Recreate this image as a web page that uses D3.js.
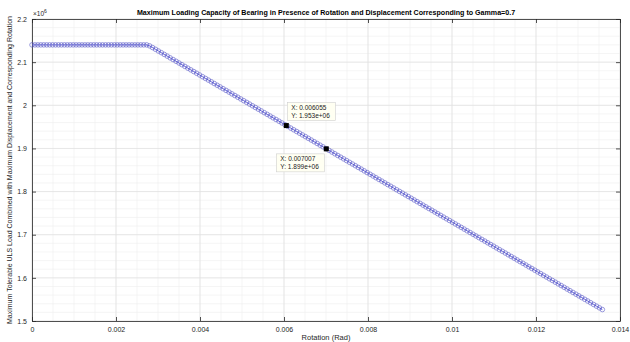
<!DOCTYPE html>
<html>
<head>
<meta charset="utf-8">
<script src="https://cdn.jsdelivr.net/npm/d3@7"></script>
<style>
  body { margin: 0; background: #fff; }
  text { font-family: "Liberation Sans", Arial, sans-serif; }
</style>
</head>
<body>
<script>
/* Rotation (rad) and load (x 1e6) */
var rotation = [
  0.00000,0.00007,0.00014,0.00021,0.00028,0.00035,0.00042,0.00049,0.00056,0.00063,
  0.00070,0.00077,0.00084,0.00091,0.00098,0.00105,0.00112,0.00119,0.00126,0.00133,
  0.00140,0.00147,0.00154,0.00161,0.00168,0.00175,0.00182,0.00189,0.00196,0.00203,
  0.00210,0.00217,0.00224,0.00231,0.00238,0.00245,0.00252,0.00259,0.00266,0.00273,
  0.00280,0.00287,0.00294,0.00301,0.00308,0.00315,0.00322,0.00329,0.00336,0.00343,
  0.00350,0.00357,0.00364,0.00371,0.00378,0.00385,0.00392,0.00399,0.00406,0.00413,
  0.00420,0.00427,0.00434,0.00441,0.00448,0.00455,0.00462,0.00469,0.00476,0.00483,
  0.00490,0.00497,0.00504,0.00511,0.00518,0.00525,0.00532,0.00539,0.00546,0.00553,
  0.00560,0.00567,0.00574,0.00581,0.00588,0.00595,0.00602,0.00609,0.00616,0.00623,
  0.00630,0.00637,0.00644,0.00651,0.00658,0.00665,0.00672,0.00679,0.00686,0.00693,
  0.00700,0.00707,0.00714,0.00721,0.00728,0.00735,0.00742,0.00749,0.00756,0.00763,
  0.00770,0.00777,0.00784,0.00791,0.00798,0.00805,0.00812,0.00819,0.00826,0.00833,
  0.00840,0.00847,0.00854,0.00861,0.00868,0.00875,0.00882,0.00889,0.00896,0.00903,
  0.00910,0.00917,0.00924,0.00931,0.00938,0.00945,0.00952,0.00959,0.00966,0.00973,
  0.00980,0.00987,0.00994,0.01001,0.01008,0.01015,0.01022,0.01029,0.01036,0.01043,
  0.01050,0.01057,0.01064,0.01071,0.01078,0.01085,0.01092,0.01099,0.01106,0.01113,
  0.01120,0.01127,0.01134,0.01141,0.01148,0.01155,0.01162,0.01169,0.01176,0.01183,
  0.01190,0.01197,0.01204,0.01211,0.01218,0.01225,0.01232,0.01239,0.01246,0.01253,
  0.01260,0.01267,0.01274,0.01281,0.01288,0.01295,0.01302,0.01309,0.01316,0.01323,
  0.01330,0.01337,0.01344,0.01351,0.01358];

var load = [
  2.14,2.14,2.14,2.14,2.14,2.14,2.14,2.14,2.14,2.14,
  2.14,2.14,2.14,2.14,2.14,2.14,2.14,2.14,2.14,2.14,
  2.14,2.14,2.14,2.14,2.14,2.14,2.14,2.14,2.14,2.14,
  2.14,2.14,2.14,2.14,2.14,2.14,2.14,2.14,2.14,2.14,
  2.1377,2.1338,2.1298,2.1258,2.1219,2.1179,2.1139,2.1099,2.1060,2.1020,
  2.0980,2.0941,2.0901,2.0861,2.0822,2.0782,2.0742,2.0703,2.0663,2.0623,
  2.0584,2.0544,2.0504,2.0464,2.0425,2.0385,2.0345,2.0306,2.0266,2.0226,
  2.0187,2.0147,2.0107,2.0068,2.0028,1.9988,1.9948,1.9909,1.9869,1.9829,
  1.9790,1.9750,1.9710,1.9671,1.9631,1.9591,1.9552,1.9512,1.9472,1.9433,
  1.9393,1.9353,1.9313,1.9274,1.9234,1.9194,1.9155,1.9115,1.9075,1.9036,
  1.8996,1.8956,1.8917,1.8877,1.8837,1.8797,1.8758,1.8718,1.8678,1.8639,
  1.8599,1.8559,1.8520,1.8480,1.8440,1.8401,1.8361,1.8321,1.8282,1.8242,
  1.8202,1.8162,1.8123,1.8083,1.8043,1.8004,1.7964,1.7924,1.7885,1.7845,
  1.7805,1.7766,1.7726,1.7686,1.7646,1.7607,1.7567,1.7527,1.7488,1.7448,
  1.7408,1.7369,1.7329,1.7289,1.7250,1.7210,1.7170,1.7130,1.7091,1.7051,
  1.7011,1.6972,1.6932,1.6892,1.6853,1.6813,1.6773,1.6734,1.6694,1.6654,
  1.6615,1.6575,1.6535,1.6495,1.6456,1.6416,1.6376,1.6337,1.6297,1.6257,
  1.6218,1.6178,1.6138,1.6099,1.6059,1.6019,1.5979,1.5940,1.5900,1.5860,
  1.5821,1.5781,1.5741,1.5702,1.5662,1.5622,1.5583,1.5543,1.5503,1.5464,
  1.5424,1.5384,1.5344,1.5305,1.5265];

/* data tips */
var tipX = [0.006055, 0.007007];
var tipY = [1.953, 1.899];
var tipLabelX = ["X: 0.006055", "X: 0.007007"];
var tipLabelY = ["Y: 1.953e+06", "Y: 1.899e+06"];

/* ticks */
var xTicks = [0, 0.002, 0.004, 0.006, 0.008, 0.01, 0.012, 0.014];
var xTickLabels = ["0", "0.002", "0.004", "0.006", "0.008", "0.01", "0.012", "0.014"];
var yTicks = [1.5, 1.6, 1.7, 1.8, 1.9, 2, 2.1, 2.2];
var yTickLabels = ["1.5", "1.6", "1.7", "1.8", "1.9", "2", "2.1", "2.2"];

var W = 630, H = 342;
var margin = {top: 19, right: 10, bottom: 21, left: 32},
    width = W - margin.left - margin.right,
    height = H - margin.top - margin.bottom;

var svg = d3.select("body").append("svg")
    .attr("width", W)
    .attr("height", H);

var g = svg.append("g")
    .attr("transform", "translate(" + margin.left + "," + margin.top + ")");

var x = d3.scaleLinear().domain([0, 0.014]).range([0, width]),
    y = d3.scaleLinear().domain([1.5, 2.2]).range([height, 0]);

var axisCol = "#262626";

/* minor grid */
g.append("g").selectAll("line").data(x.ticks(28)).enter().append("line")
    .attr("x1", function(d) { return x(d); }).attr("x2", function(d) { return x(d); })
    .attr("y1", 0).attr("y2", height)
    .attr("stroke", "#eeeeee").attr("stroke-width", 0.6);
g.append("g").selectAll("line").data(y.ticks(35)).enter().append("line")
    .attr("y1", function(d) { return y(d); }).attr("y2", function(d) { return y(d); })
    .attr("x1", 0).attr("x2", width)
    .attr("stroke", "#eeeeee").attr("stroke-width", 0.6);

/* major grid */
g.append("g").selectAll("line").data(xTicks).enter().append("line")
    .attr("x1", function(d) { return x(d); }).attr("x2", function(d) { return x(d); })
    .attr("y1", 0).attr("y2", height)
    .attr("stroke", "#e0e0e0").attr("stroke-width", 0.7);
g.append("g").selectAll("line").data(yTicks).enter().append("line")
    .attr("y1", function(d) { return y(d); }).attr("y2", function(d) { return y(d); })
    .attr("x1", 0).attr("x2", width)
    .attr("stroke", "#e0e0e0").attr("stroke-width", 0.7);

/* axes, ticks inward like MATLAB */
function styleAxis(sel) {
    sel.select(".domain").attr("stroke", axisCol).attr("stroke-width", 0.8);
    sel.selectAll(".tick line").attr("stroke", axisCol).attr("stroke-width", 0.8);
    sel.selectAll("text").attr("fill", axisCol).style("font-size", "7px");
}

g.append("g")
    .attr("transform", "translate(0," + height + ")")
    .call(d3.axisBottom(x).tickValues(xTicks).tickSize(-4).tickSizeOuter(0).tickPadding(6)
        .tickFormat(function(d, i) { return xTickLabels[i]; }))
    .call(styleAxis);

g.append("g")
    .call(d3.axisLeft(y).tickValues(yTicks).tickSize(-4).tickSizeOuter(0).tickPadding(5)
        .tickFormat(function(d, i) { return yTickLabels[i]; }))
    .call(styleAxis);

g.append("g")
    .call(d3.axisTop(x).tickValues(xTicks).tickSize(-4).tickSizeOuter(0).tickFormat(""))
    .call(styleAxis);

g.append("g")
    .attr("transform", "translate(" + width + ",0)")
    .call(d3.axisRight(y).tickValues(yTicks).tickSize(-4).tickSizeOuter(0).tickFormat(""))
    .call(styleAxis);

/* series */
var pts = rotation.map(function(r, i) { return {r: r, v: load[i]}; });

var line = d3.line()
    .x(function(d) { return x(d.r); })
    .y(function(d) { return y(d.v); });

g.append("path")
    .datum(pts)
    .attr("fill", "none")
    .attr("stroke", "#3b3bd0")
    .attr("stroke-width", 0.8)
    .attr("d", line);

g.append("g").selectAll("circle").data(pts).enter().append("circle")
    .attr("cx", function(d) { return x(d.r); })
    .attr("cy", function(d) { return y(d.v); })
    .attr("r", 2.3)
    .attr("fill", "none")
    .attr("stroke", "#5a5ac8")
    .attr("stroke-opacity", 0.8)
    .attr("stroke-width", 0.75);

/* data tips */
var tipOffset = [[1, -23], [-50, 5]];
tipX.forEach(function(tx, i) {
    var px = x(tx), py = y(tipY[i]);
    g.append("rect")
        .attr("x", px - 2.5).attr("y", py - 2.5)
        .attr("width", 5).attr("height", 5)
        .attr("fill", "#000");
    var bx = px + tipOffset[i][0], by = py + tipOffset[i][1];
    g.append("rect")
        .attr("x", bx).attr("y", by)
        .attr("width", 48).attr("height", 18)
        .attr("fill", "#fffff2")
        .attr("stroke", "#cfcfcf")
        .attr("stroke-width", 0.6);
    g.append("text")
        .attr("x", bx + 4).attr("y", by + 7.5)
        .style("font-size", "6.5px").attr("fill", "#222")
        .text(tipLabelX[i]);
    g.append("text")
        .attr("x", bx + 4).attr("y", by + 15)
        .style("font-size", "6.5px").attr("fill", "#222")
        .text(tipLabelY[i]);
});

/* exponent label */
var expo = svg.append("text")
    .attr("x", margin.left + 1).attr("y", margin.top - 3)
    .style("font-size", "6.5px").attr("fill", axisCol);
expo.append("tspan").text("\u00d710");
expo.append("tspan").attr("dy", -3).style("font-size", "5px").text("6");

/* title */
svg.append("text")
    .attr("x", margin.left + width / 2).attr("y", 15)
    .attr("text-anchor", "middle")
    .style("font-size", "7.1px").style("font-weight", "bold")
    .attr("fill", "#000")
    .text("Maximum Loading Capacity of Bearing in Presence of Rotation and Displacement Corresponding to Gamma=0.7");

/* axis labels */
svg.append("text")
    .attr("x", margin.left + width / 2).attr("y", 340)
    .attr("text-anchor", "middle")
    .style("font-size", "7.5px").attr("fill", axisCol)
    .text("Rotation (Rad)");

svg.append("text")
    .attr("transform", "translate(12," + (margin.top + height / 2) + ") rotate(-90)")
    .attr("text-anchor", "middle")
    .style("font-size", "7px").attr("fill", axisCol)
    .text("Maximum Tolerable ULS Load Combined with Maximum Displacement and Corresponding Rotation");
</script>
</body>
</html>
